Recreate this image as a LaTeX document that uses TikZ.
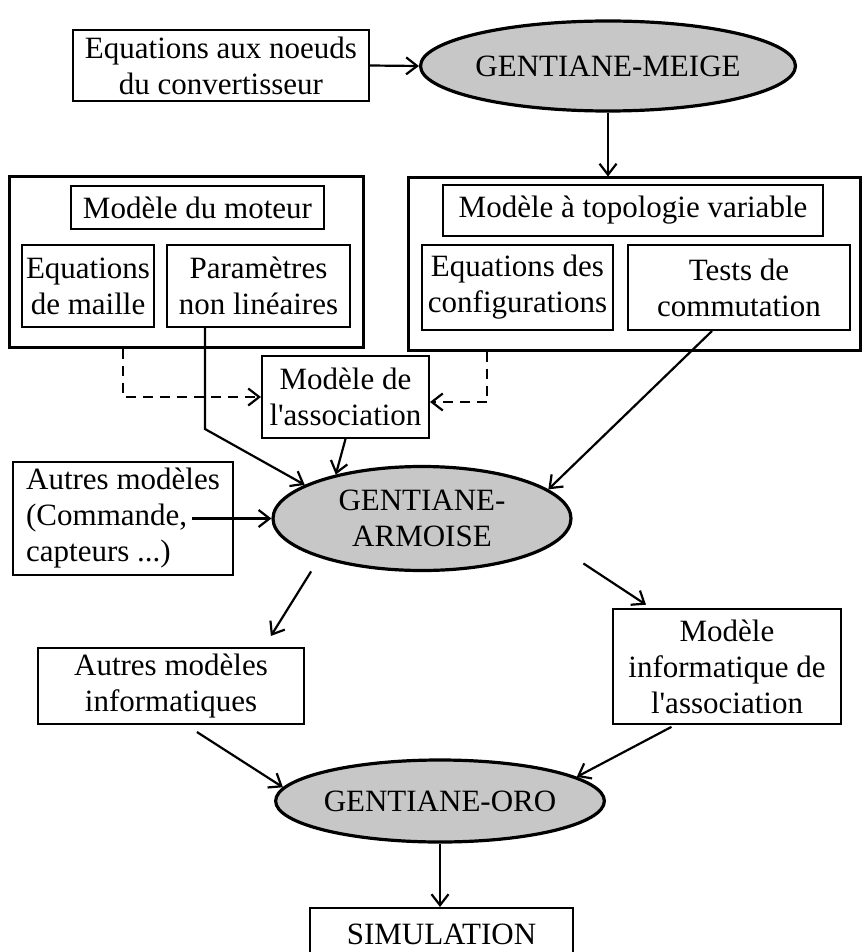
\documentclass[tikz,border=0pt]{standalone}
\usepackage{fontspec}
\setmainfont{Liberation Serif}[Ligatures=TeXOff]
\usetikzlibrary{shapes.geometric,arrows.meta}

\begin{document}
\begin{tikzpicture}[x=1pt,y=-1pt,
	font=\fontsize{31}{36}\selectfont,
	box/.style={draw,line width=2pt,inner sep=0pt,align=center},
	frame/.style={draw,line width=3pt,inner sep=0pt},
	soft/.style={ellipse,draw,line width=3.2pt,fill=black!22,inner sep=0pt,align=center},
	arr/.style={line width=2.2pt,-{Straight Barb[length=11pt,width=17pt]}},
	darr/.style={arr,dash pattern=on 10pt off 7pt}]
	\useasboundingbox (0,0) rectangle (864,952);
	\node[box,minimum width=296pt,minimum height=71pt] (noeuds) at (221,65.5) {Equations aux noeuds\\du convertisseur};
	\node[soft,minimum width=352pt,minimum height=90pt] (meige) at (608,66) {GENTIANE-MEIGE};
	\node[frame,minimum width=354pt,minimum height=170pt] (moteurbox) at (186,262) {};
	\node[frame,minimum width=452pt,minimum height=172pt] (topobox) at (634,264) {};
	\node[box,minimum width=253pt,minimum height=43pt] (moteur) at (197.5,207.5) {Modèle du moteur};
	\node[box,minimum width=132pt,minimum height=82pt] (maille) at (88,286) {Equations\\de maille};
	\node[box,minimum width=183pt,minimum height=82pt] (param) at (258.5,286) {Paramètres\\non linéaires};
	\node[box,minimum width=380pt,minimum height=51pt] (topo) at (633,210.5) {Modèle à topologie variable};
	\node[box,minimum width=191pt,minimum height=85pt] (config) at (517.5,287.5) {Equations des\\configurations};
	\node[box,minimum width=222pt,minimum height=85pt] (commut) at (739,287.5) {Tests de\\commutation};
	\node[box,minimum width=167pt,minimum height=82pt] (assoc) at (345.5,397) {Modèle de\\l'association};
	\node[box,align=left,minimum width=220pt,minimum height=113pt] (autres) at (123,518.5) {Autres modèles\\(Commande,\\capteurs ...)};
	\node[soft,minimum width=298pt,minimum height=104pt] (armoise) at (422,518.5) {GENTIANE-\\ARMOISE};
	\node[box,minimum width=266pt,minimum height=76pt] (autinfo) at (171,686) {Autres modèles\\informatiques};
	\node[box,minimum width=228pt,minimum height=115pt] (modinfo) at (727,666.5) {Modèle\\informatique de\\l'association};
	\node[soft,minimum width=316pt,minimum height=82pt] (oro) at (440,801) {GENTIANE-ORO};
	\node[box,minimum width=263pt,minimum height=52pt] (simu) at (441.5,934) {SIMULATION};

	\draw[arr] (noeuds.east) -- (meige.west);
	\draw[arr] (meige.south) -- (meige.south |- topobox.north);
	\draw[darr] ([xshift=35pt]maille.south |- moteurbox.south) |- (assoc.west);
	\draw[darr] ([xshift=-30.5pt]config.south |- topobox.south) |- ([yshift=-5pt]assoc.east);
	\draw[arr] ([xshift=-53.5pt]param.south) -- ++(0,101) -- (armoise.164);
	\draw[arr] (assoc.south) -- (armoise.153);
	\draw[arr] ([xshift=-27pt]commut.south) -- (armoise.13);
	\draw[arr] ([xshift=69pt]autres.center) -- (armoise.west);
	\draw[arr,shorten <=16pt,shorten >=13pt] (armoise.201) -- ([xshift=93pt]autinfo.north);
	\draw[arr,shorten <=35pt,shorten >=6pt] (armoise.-11) -- ([xshift=-76pt]modinfo.north);
	\draw[arr,shorten <=13pt] ([xshift=15pt]autinfo.south) -- (oro.175);
	\draw[arr,shorten <=4pt] ([xshift=-52pt]modinfo.south) -- (oro.10);
	\draw[arr] (oro.south) -- (oro.south |- simu.north);
\end{tikzpicture}
\end{document}
